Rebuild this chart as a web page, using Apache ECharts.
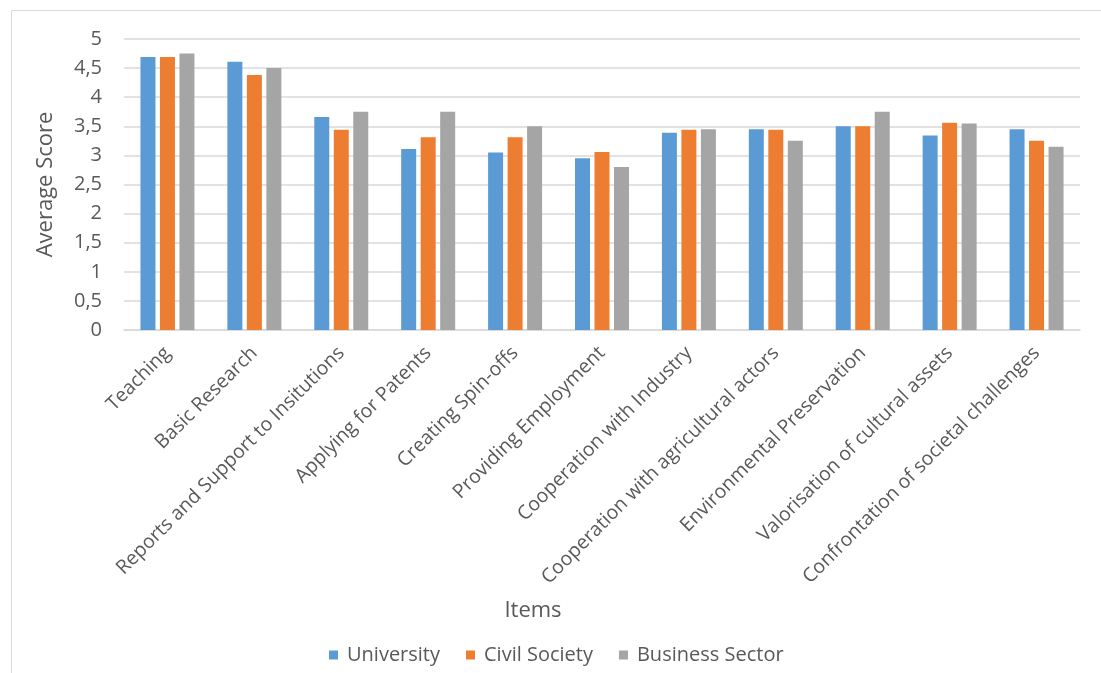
<!DOCTYPE html>
<html>
<head>
<meta charset="utf-8">
<script src="https://cdn.jsdelivr.net/npm/echarts@6/dist/echarts.min.js"></script>
<style>
  html,body{margin:0;padding:0;background:#fff;}
  #chart{width:1101px;height:673px;}
</style>
</head>
<body>
<div id="chart"></div>
<script>
// 类别和数据
var items = ['Teaching','Basic Research','Reports and Support to Insitutions','Applying for Patents',
    'Creating Spin-offs','Providing Employment','Cooperation with Industry',
    'Cooperation with agricultural actors','Environmental Preservation',
    'Valorisation of cultural assets','Confrontation of societal challenges'];
var university = [4.69, 4.61, 3.66, 3.11, 3.05, 2.95, 3.39, 3.45, 3.50, 3.34, 3.45];
var civilSociety = [4.69, 4.38, 3.44, 3.31, 3.31, 3.06, 3.44, 3.44, 3.50, 3.56, 3.25];
var businessSector = [4.75, 4.50, 3.75, 3.75, 3.50, 2.80, 3.45, 3.25, 3.75, 3.55, 3.15];

var textColor = '#595959';
var fontName = '"Open Sans", sans-serif';

var myChart = echarts.init(document.getElementById('chart'));
var option = {
    backgroundColor: '#fff',
    animation: false,
    color: ['#5B9BD5', '#ED7D31', '#A5A5A5'],
    textStyle: { fontFamily: fontName, color: textColor },
    title: {
        text: 'Items',
        left: 528,
        top: 595,
        textAlign: 'center',
        textStyle: { fontSize: 22, fontWeight: 'normal', color: textColor, fontFamily: fontName }
    },
    graphic: [{
        type: 'polyline',
        shape: { points: [[11.5, 673], [11.5, 10.5], [1101, 10.5]] },
        style: { stroke: '#d9d9d9', lineWidth: 1, fill: null },
        silent: true
    }],
    legend: {
        data: ['University', 'Civil Society', 'Business Sector'],
        left: 324,
        top: 640,
        itemWidth: 9,
        itemHeight: 9,
        itemGap: 26,
        icon: 'rect',
        textStyle: { fontSize: 20, color: textColor, fontFamily: fontName, padding: [0, 0, 0, 4] }
    },
    grid: {
        left: 124,
        right: 21,
        top: 39,
        height: 291
    },
    xAxis: {
        type: 'category',
        data: items,
        axisTick: { show: false },
        axisLine: { lineStyle: { color: '#d9d9d9', width: 1.5 } },
        axisLabel: {
            rotate: 45,
            interval: 0,
            margin: 20,
            fontSize: 19.5,
            color: textColor,
            fontFamily: fontName
        }
    },
    yAxis: {
        type: 'value',
        min: 0,
        max: 5,
        interval: 0.5,
        name: 'Average Score',
        nameLocation: 'middle',
        nameGap: 67,
        nameTextStyle: { fontSize: 22, color: textColor, fontFamily: fontName },
        axisLine: { show: false },
        axisTick: { show: false },
        splitLine: { lineStyle: { color: '#d9d9d9', width: 1.5 } },
        axisLabel: {
            fontSize: 20,
            color: textColor,
            margin: 22,
            fontFamily: fontName,
            formatter: function (v) { return String(v).replace('.', ','); }
        }
    },
    series: [{
        name: 'University',
        type: 'bar',
        data: university,
        barWidth: 15,
        barGap: '30%'
    }, {
        name: 'Civil Society',
        type: 'bar',
        data: civilSociety,
        barWidth: 15,
        barGap: '30%'
    }, {
        name: 'Business Sector',
        type: 'bar',
        data: businessSector,
        barWidth: 15,
        barGap: '30%'
    }]
};
myChart.setOption(option, true);
</script>
</body>
</html>
